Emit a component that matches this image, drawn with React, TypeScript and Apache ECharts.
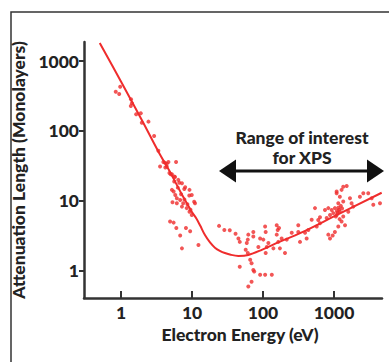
import React, { useEffect, useRef } from 'react';
import * as echarts from 'echarts';

const xTicks = [1, 10, 100, 1000];
const yTicks = [1, 10, 100, 1000];

// fitted "universal curve"
const curveEnergy = [0.5, 1, 2, 3.36, 5, 7, 10, 11.5, 13, 15.2, 17.9, 21, 25, 29, 35, 45, 62, 96, 173, 333, 1000, 4700];
const curveLength = [1810, 505, 138, 50.6, 24.9, 13, 6.9, 5.6, 4.45, 3.25, 2.55, 2.15, 1.92, 1.8, 1.7, 1.64, 1.69, 2.0, 2.62, 3.46, 6.0, 13.1];

// measured points [energy eV, attenuation length]
const lowEnergyPoints = [
  [0.84, 364], [0.94, 338], [0.97, 430], [1.38, 284], [1.42, 249], [1.37, 228],
  [1.63, 173], [1.89, 179], [1.96, 131], [2.43, 136], [2.92, 85], [3.35, 52],
  [3.54, 31], [3.94, 36], [4.4, 31], [4.17, 35], [4.64, 36], [5.95, 36],
  [4.2, 30], [4.8, 25], [4.4, 34],
];
const streakPoints = [
  [5.2, 24], [5.61, 22.4], [5.76, 22], [6.4, 20], [6.6, 18.2], [7.2, 17.9],
  [7.77, 14.8], [8.0, 15.7], [9.13, 12.0], [9.2, 14.4], [9.9, 12.2], [10.7, 9.75], [11, 9.3],
  [5.2, 14.4], [5.5, 13.6], [5.8, 12.2], [6.1, 10.9], [6.8, 10.3], [7.5, 9.3],
  [8.4, 7.9], [9.2, 7.0], [9.9, 6.3], [5.3, 9.6], [6.1, 9.3], [7.2, 8.3],
  [5.0, 24], [5.6, 19], [6.3, 15.5], [7.0, 12.5], [7.8, 10.5], [8.6, 9], [9.5, 7.5],
  [4.9, 5.1], [5.5, 4.9], [6.0, 4.1], [8.2, 4.1], [9.4, 3.7], [6.8, 3.2],
  [7.2, 2.1], [12.3, 2.35],
];
const valleyPoints = [
  [24, 4.4], [28.5, 3.85], [34, 3.8], [41, 3.4], [45, 2.9], [47, 2.6],
  [62, 3.3], [61, 2.8], [59, 2.5], [57, 2.0], [61, 1.8], [66, 1.44], [69, 1.29],
  [73, 1.03], [75, 0.98], [69, 0.7], [62, 0.6], [73, 3.6], [73, 3.1], [91, 2.9],
  [86, 2.2], [107, 4.3], [109, 3.6], [101, 2.8], [113, 2.2], [119, 2.5], [109, 1.8],
  [47, 1.15], [91, 0.88], [107, 0.88], [133, 0.88], [156, 4.5], [161, 3.85],
  [156, 3.3], [164, 2.6], [140, 2.1],
];
const highEnergyPoints = [
  [168, 4.1], [183, 2.9], [173, 2.1], [204, 1.8], [216, 2.8], [254, 3.5],
  [314, 4.5], [314, 3.6], [332, 2.6], [391, 3.5], [412, 2.9], [435, 3.85],
  [485, 5.4], [540, 7.9], [571, 4.3], [635, 5.85], [635, 4.8], [832, 7.9], [832, 3.3],
  [879, 6.3], [789, 5.7], [929, 7.4], [1090, 12.9], [1350, 16], [1510, 16.4],
  [1210, 11.5], [1350, 9.8], [1150, 9.3], [1030, 7.9], [977, 6.7], [1090, 6.3],
  [1210, 7.0], [1350, 6.0], [1280, 5.1], [1430, 4.5], [1150, 4.3], [1030, 3.6],
  [879, 2.9], [959, 3.2], [1680, 10.9], [1770, 9.3], [1870, 8.3], [1590, 7.0],
  [2590, 12.9], [3040, 12.9], [3400, 10.9], [3580, 8.8], [4450, 9.3], [2320, 11.5],
  [600, 5.35], [747, 7.4], [1280, 14.4], [1090, 13.6], [1150, 8.0], [1180, 7.5],
  [1120, 6.8], [1200, 5.5], [1250, 8.5], [1100, 7.2], [1060, 6.0], [1300, 7.8],
];

const RED = '#ef2c2c';
const FONT = 'Lato';
const FW = 900;
const FS = 17.5;

export default function App() {
  const ref = useRef<HTMLDivElement>(null);
  useEffect(() => {
    if (!ref.current) return;
    const chart = echarts.init(ref.current, null, { renderer: 'svg' });
    const points = [...lowEnergyPoints, ...streakPoints, ...valleyPoints, ...highEnergyPoints];
    chart.setOption({
      animation: false,
      backgroundColor: '#fff',
      grid: { left: 84, right: 7, top: 42, bottom: 64 },
      xAxis: {
        type: 'log',
        logBase: 10,
        min: 0.3,
        max: 4750,
        name: 'Electron Energy (eV)',
        nameLocation: 'middle',
        nameGap: 19,
        nameTextStyle: { fontFamily: FONT, fontWeight: FW, fontSize: FS, color: '#222', padding: [0, 0, 0, 14] },
        axisLine: { show: true, lineStyle: { color: '#333', width: 2.5 } },
        axisTick: { show: true, inside: true, length: 7, lineStyle: { color: '#333', width: 2 }, customValues: xTicks },
        axisLabel: {
          customValues: xTicks, margin: 5,
          fontFamily: FONT, fontWeight: FW, fontSize: FS, color: '#222',
          formatter: (v: number) => String(Math.round(v)),
        },
        splitLine: { show: false },
      },
      yAxis: {
        type: 'log',
        logBase: 10,
        min: 0.41,
        max: 1870,
        name: 'Attenuation Length (Monolayers)',
        nameLocation: 'middle',
        nameGap: 42,
        nameRotate: 90,
        nameTextStyle: { fontFamily: FONT, fontWeight: FW, fontSize: FS, color: '#222' },
        axisLine: { show: true, lineStyle: { color: '#333', width: 2.5 } },
        axisTick: { show: true, inside: false, length: 5, lineStyle: { color: '#333', width: 2 }, customValues: yTicks },
        axisLabel: {
          customValues: yTicks, margin: 5,
          fontFamily: FONT, fontWeight: FW, fontSize: FS, color: '#222',
          formatter: (v: number) => String(Math.round(v)),
        },
        splitLine: { show: false },
      },
      graphic: [
        { type: 'rect', shape: { x: 11, y: 12, width: 420, height: 420 }, style: { fill: 'none', stroke: '#333', lineWidth: 1.5 }, silent: true },
        { type: 'line', shape: { x1: 232, y1: 171, x2: 371, y2: 171 }, style: { stroke: '#111', lineWidth: 3 } },
        { type: 'polygon', shape: { points: [[219, 171], [236, 159.5], [236, 182.5]] }, style: { fill: '#111' } },
        { type: 'polygon', shape: { points: [[384, 171], [367, 159.5], [367, 182.5]] }, style: { fill: '#111' } },
        { type: 'text', x: 302, y: 137, style: { text: 'Range of interest', textAlign: 'center', textVerticalAlign: 'middle', font: `${FW} ${FS}px ${FONT}`, fill: '#222' } },
        { type: 'text', x: 302, y: 157, style: { text: 'for XPS', textAlign: 'center', textVerticalAlign: 'middle', font: `${FW} ${FS}px ${FONT}`, fill: '#222' } },
      ],
      series: [
        {
          type: 'scatter',
          data: points,
          symbol: 'circle',
          symbolSize: 4,
          itemStyle: { color: RED },
        },
        {
          type: 'line',
          data: curveEnergy.map((e, i) => [e, curveLength[i]]),
          smooth: 0.35,
          showSymbol: false,
          lineStyle: { color: RED, width: 2 },
        },
      ],
    });
    return () => chart.dispose();
  }, []);
  return <div ref={ref} style={{ position: 'fixed', left: 0, top: 0, width: 389, height: 362 }} />;
}
